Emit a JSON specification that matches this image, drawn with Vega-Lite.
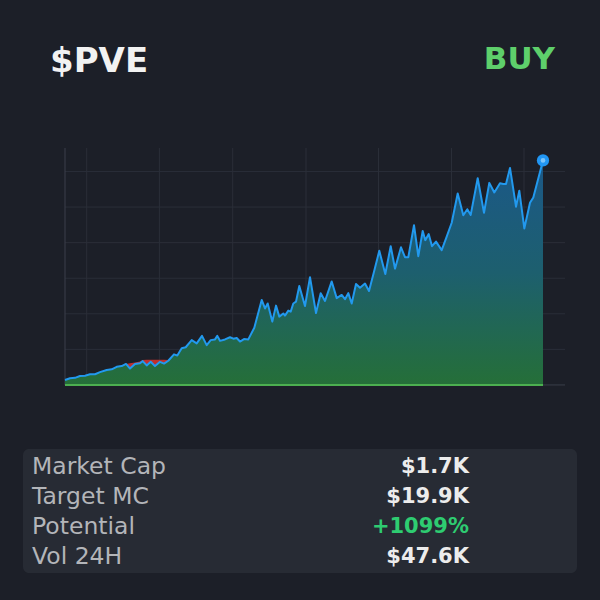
{
  "$schema": "https://vega.github.io/schema/vega-lite/v6.json",
  "background": "#1c1f28",
  "padding": {"left": 0, "top": 0, "right": 0, "bottom": 27},
  "autosize": {"type": "pad"},
  "config": {
    "view": {"stroke": null},
    "text": {"font": "DejaVu Sans"},
    "concat": {"spacing": 0}
  },
  "datasets": {
    "header": [
      {"side": "left", "label": "$PVE"},
      {"side": "right", "label": "BUY"}
    ],
    "series": [
      {"t": 0, "v": 0.14}, {"t": 5, "v": 0.19}, {"t": 10, "v": 0.2}, {"t": 15, "v": 0.25},
      {"t": 20, "v": 0.26}, {"t": 25, "v": 0.3}, {"t": 30, "v": 0.3}, {"t": 35, "v": 0.36},
      {"t": 41.7, "v": 0.42}, {"t": 46.7, "v": 0.44}, {"t": 51.7, "v": 0.51}, {"t": 56.7, "v": 0.53},
      {"t": 61, "v": 0.59}, {"t": 65, "v": 0.46}, {"t": 70, "v": 0.59}, {"t": 75, "v": 0.61},
      {"t": 77.7, "v": 0.67}, {"t": 81.7, "v": 0.55}, {"t": 85.7, "v": 0.65}, {"t": 90, "v": 0.53},
      {"t": 95, "v": 0.65}, {"t": 99, "v": 0.6}, {"t": 103.3, "v": 0.68}, {"t": 109, "v": 0.86},
      {"t": 112.3, "v": 0.83}, {"t": 116.7, "v": 1.03}, {"t": 120.7, "v": 1.06}, {"t": 126.7, "v": 1.26},
      {"t": 131.7, "v": 1.17}, {"t": 137, "v": 1.38}, {"t": 141.7, "v": 1.12}, {"t": 145.7, "v": 1.26},
      {"t": 150, "v": 1.28}, {"t": 152.3, "v": 1.38}, {"t": 155, "v": 1.24}, {"t": 160, "v": 1.28},
      {"t": 165, "v": 1.34}, {"t": 168.3, "v": 1.3}, {"t": 171.7, "v": 1.32}, {"t": 175, "v": 1.22},
      {"t": 179, "v": 1.29}, {"t": 183.3, "v": 1.28}, {"t": 189.3, "v": 1.61}, {"t": 196.7, "v": 2.39},
      {"t": 200, "v": 2.15}, {"t": 202.7, "v": 2.29}, {"t": 207.3, "v": 1.78}, {"t": 211, "v": 2.23},
      {"t": 214.3, "v": 1.92}, {"t": 218.3, "v": 2.01}, {"t": 220, "v": 1.95}, {"t": 223.3, "v": 2.09},
      {"t": 225.7, "v": 2.06}, {"t": 228.3, "v": 2.29}, {"t": 231, "v": 2.34}, {"t": 234.3, "v": 2.78},
      {"t": 240, "v": 2.22}, {"t": 245, "v": 3.03}, {"t": 251, "v": 2.02}, {"t": 255.7, "v": 2.58},
      {"t": 260, "v": 2.36}, {"t": 266.7, "v": 2.91}, {"t": 271.7, "v": 2.44}, {"t": 276.7, "v": 2.53},
      {"t": 280, "v": 2.41}, {"t": 283.3, "v": 2.58}, {"t": 286.7, "v": 2.29}, {"t": 291, "v": 2.84},
      {"t": 295, "v": 2.73}, {"t": 300, "v": 2.85}, {"t": 304, "v": 2.64}, {"t": 309, "v": 3.18},
      {"t": 314.3, "v": 3.77}, {"t": 320.3, "v": 3.12}, {"t": 325.7, "v": 3.9}, {"t": 330, "v": 3.27},
      {"t": 336, "v": 3.87}, {"t": 340, "v": 3.59}, {"t": 343.3, "v": 3.59}, {"t": 349, "v": 4.49},
      {"t": 353.3, "v": 3.62}, {"t": 357.7, "v": 4.33}, {"t": 360.3, "v": 4.07}, {"t": 363.7, "v": 4.24},
      {"t": 367, "v": 3.9}, {"t": 371, "v": 4.03}, {"t": 376.7, "v": 3.79}, {"t": 381.7, "v": 4.17},
      {"t": 386.7, "v": 4.56}, {"t": 392.7, "v": 5.38}, {"t": 398.3, "v": 4.77}, {"t": 402.3, "v": 4.94},
      {"t": 405.7, "v": 4.78}, {"t": 412.7, "v": 5.81}, {"t": 419, "v": 4.84}, {"t": 424.3, "v": 5.68},
      {"t": 429.3, "v": 5.41}, {"t": 435, "v": 5.67}, {"t": 438.3, "v": 5.65}, {"t": 441, "v": 5.65},
      {"t": 445, "v": 6.1}, {"t": 451, "v": 5.01}, {"t": 454.3, "v": 5.46}, {"t": 459.3, "v": 4.4},
      {"t": 465, "v": 5.12}, {"t": 468.3, "v": 5.27}, {"t": 478, "v": 6.31}
    ],
    "drawdown": [
      {"t": 61, "v": 0.59, "peak": 0.59}, {"t": 65, "v": 0.46, "peak": 0.61},
      {"t": 70, "v": 0.59, "peak": 0.63}, {"t": 75, "v": 0.61, "peak": 0.66},
      {"t": 77.7, "v": 0.67, "peak": 0.7}, {"t": 81.7, "v": 0.55, "peak": 0.71},
      {"t": 85.7, "v": 0.65, "peak": 0.71}, {"t": 90, "v": 0.53, "peak": 0.71},
      {"t": 95, "v": 0.65, "peak": 0.71}, {"t": 99, "v": 0.6, "peak": 0.71},
      {"t": 103.3, "v": 0.68, "peak": 0.7}, {"t": 106, "v": 0.76, "peak": 0.76}
    ],
    "grid_x": [{"t": 21.7}, {"t": 94.4}, {"t": 167.7}, {"t": 241}, {"t": 313.5}, {"t": 386.5}, {"t": 459}],
    "grid_y": [{"v": 1}, {"v": 2}, {"v": 3}, {"v": 4}, {"v": 5}, {"v": 6}],
    "stats": [
      {"metric": "Market Cap", "value": "$1.7K"},
      {"metric": "Target MC", "value": "$19.9K"},
      {"metric": "Potential", "value": "+1099%"},
      {"metric": "Vol 24H", "value": "$47.6K"}
    ]
  },
  "vconcat": [
    {
      "width": 600,
      "height": 148,
      "data": {"name": "header"},
      "layer": [
        {
          "transform": [{"filter": "datum.side === 'left'"}],
          "mark": {"type": "text", "align": "left", "baseline": "alphabetic", "fontSize": 34, "fontWeight": "bold", "color": "#f2f2f2", "dy": -2},
          "encoding": {
            "x": {"field": "side", "type": "nominal", "scale": {"type": "point", "padding": 0, "domain": ["left", "right"], "range": [50, 555]}, "axis": null},
            "text": {"field": "label"}
          }
        },
        {
          "transform": [{"filter": "datum.side === 'right'"}],
          "mark": {"type": "text", "align": "right", "baseline": "alphabetic", "fontSize": 31, "fontWeight": "bold", "color": "#5ecf6b", "dy": -5},
          "encoding": {
            "x": {"field": "side", "type": "nominal", "axis": null},
            "text": {"field": "label"}
          }
        }
      ]
    },
    {
      "width": 565,
      "height": 301,
      "layer": [
        {
          "data": {"name": "grid_y"},
          "mark": {"type": "rule", "color": "#2a2e38", "strokeWidth": 1},
          "encoding": {
            "x": {"datum": 0, "type": "quantitative", "scale": {"domain": [-65, 500], "nice": false, "zero": false}, "axis": null},
            "x2": {"datum": 500},
            "y": {"field": "v", "type": "quantitative", "scale": {"domain": [-1.8, 6.66], "nice": false, "zero": false}, "axis": null}
          }
        },
        {
          "data": {"name": "grid_x"},
          "mark": {"type": "rule", "color": "#2a2e38", "strokeWidth": 1},
          "encoding": {
            "x": {"field": "t", "type": "quantitative", "axis": null},
            "y": {"datum": 0, "type": "quantitative", "axis": null},
            "y2": {"datum": 6.66}
          }
        },
        {
          "data": {"values": [{"axis": "y"}]},
          "mark": {"type": "rule", "color": "#3a3f4a", "strokeWidth": 1},
          "encoding": {
            "x": {"datum": 0, "type": "quantitative", "axis": null},
            "y": {"datum": 0, "type": "quantitative", "axis": null},
            "y2": {"datum": 6.66}
          }
        },
        {
          "data": {"values": [{"axis": "x"}]},
          "mark": {"type": "rule", "color": "#3a3f4a", "strokeWidth": 1},
          "encoding": {
            "x": {"datum": 0, "type": "quantitative", "axis": null},
            "x2": {"datum": 500},
            "y": {"datum": 0, "type": "quantitative", "axis": null}
          }
        },
        {
          "data": {"name": "series"},
          "mark": {
            "type": "area",
            "color": {
              "gradient": "linear", "x1": 0, "y1": 0, "x2": 0, "y2": 1,
              "stops": [
                {"offset": 0, "color": "#1b5888"},
                {"offset": 0.5, "color": "#1d5f6e"},
                {"offset": 1, "color": "#256f38"}
              ]
            }
          },
          "encoding": {
            "x": {"field": "t", "type": "quantitative", "axis": null},
            "y": {"field": "v", "type": "quantitative", "axis": null},
            "y2": {"datum": 0}
          }
        },
        {
          "data": {"name": "drawdown"},
          "mark": {"type": "area", "color": "#d0312d", "opacity": 0.9},
          "encoding": {
            "x": {"field": "t", "type": "quantitative", "axis": null},
            "y": {"field": "v", "type": "quantitative", "axis": null},
            "y2": {"field": "peak"}
          }
        },
        {
          "data": {"name": "series"},
          "mark": {"type": "rule", "color": "#4caf50", "strokeWidth": 2},
          "encoding": {
            "x": {"aggregate": "min", "field": "t", "type": "quantitative", "axis": null},
            "x2": {"aggregate": "max", "field": "t"},
            "y": {"datum": 0, "type": "quantitative", "axis": null}
          }
        },
        {
          "data": {"name": "series"},
          "mark": {"type": "line", "color": "#2299ee", "strokeWidth": 2, "strokeJoin": "round"},
          "encoding": {
            "x": {"field": "t", "type": "quantitative", "axis": null},
            "y": {"field": "v", "type": "quantitative", "axis": null}
          }
        },
        {
          "data": {"name": "series"},
          "transform": [
            {"joinaggregate": [{"op": "max", "field": "t", "as": "tmax"}]},
            {"filter": "datum.t === datum.tmax"}
          ],
          "layer": [
            {
              "mark": {"type": "point", "filled": true, "color": "#2196f3", "size": 150, "opacity": 1},
              "encoding": {
                "x": {"field": "t", "type": "quantitative", "axis": null},
                "y": {"field": "v", "type": "quantitative", "axis": null}
              }
            },
            {
              "mark": {"type": "point", "filled": true, "color": "#7cc4fa", "size": 22, "opacity": 1},
              "encoding": {
                "x": {"field": "t", "type": "quantitative", "axis": null},
                "y": {"field": "v", "type": "quantitative", "axis": null}
              }
            }
          ]
        }
      ]
    },
    {
      "spacing": 0,
      "hconcat": [
        {
          "width": 23,
          "height": 124,
          "data": {"values": [{"blank": ""}]},
          "mark": {"type": "text"},
          "encoding": {"text": {"field": "blank"}}
        },
        {
          "width": 554,
          "height": 124,
          "view": {"fill": "#272b34", "cornerRadius": 6, "stroke": null},
          "data": {"name": "stats"},
          "layer": [
            {
              "mark": {"type": "text", "align": "left", "baseline": "middle", "fontSize": 23.5, "color": "#b3b5b9"},
              "encoding": {
                "x": {"datum": "label", "type": "nominal", "scale": {"type": "point", "padding": 0, "domain": ["label", "value"], "range": [9, 446]}, "axis": null},
                "y": {"field": "metric", "type": "nominal", "sort": null, "scale": {"type": "point", "padding": 0, "domain": ["Market Cap", "Target MC", "Potential", "Vol 24H"], "range": [18, 108]}, "axis": null},
                "text": {"field": "metric"}
              }
            },
            {
              "mark": {"type": "text", "align": "right", "baseline": "middle", "fontSize": 21, "fontWeight": "bold"},
              "encoding": {
                "x": {"datum": "value", "type": "nominal", "axis": null},
                "y": {"field": "metric", "type": "nominal", "sort": null, "axis": null},
                "text": {"field": "value"},
                "color": {"condition": {"test": "datum.metric === 'Potential'", "value": "#2ecc71"}, "value": "#ececec"}
              }
            }
          ]
        }
      ]
    }
  ],
  "bounds": "flush"
}
